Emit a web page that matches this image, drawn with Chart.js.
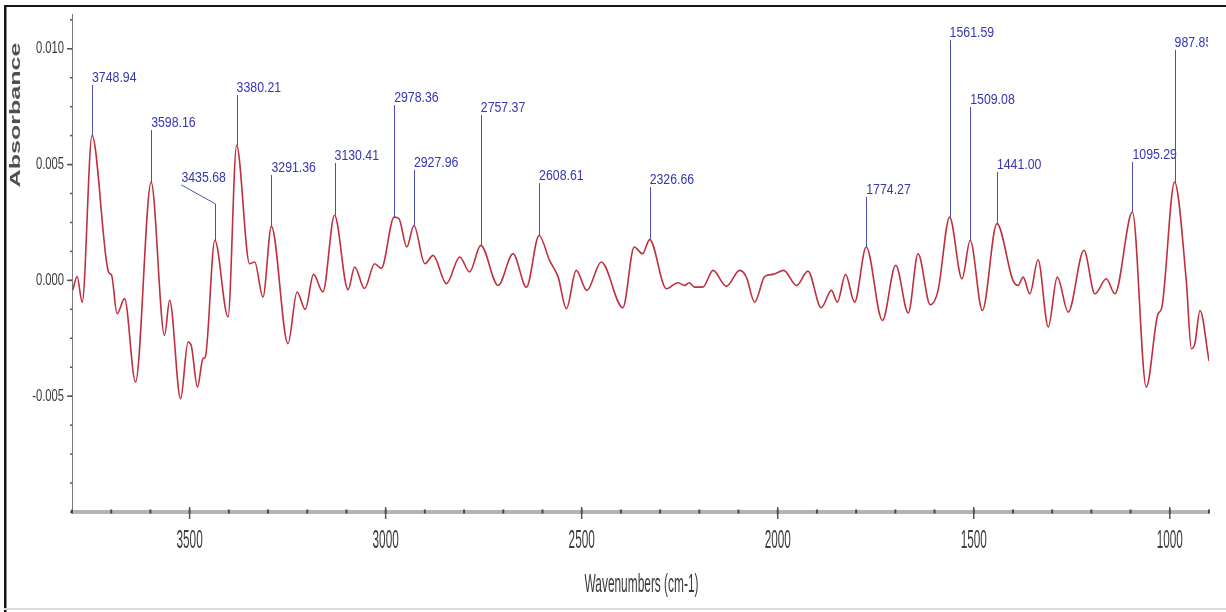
<!DOCTYPE html>
<html>
<head>
<meta charset="utf-8">
<title>FTIR spectrum</title>
<script src="https://cdn.jsdelivr.net/npm/chart.js@4.4.1/dist/chart.umd.min.js"></script>
<style>
  html, body { margin: 0; padding: 0; background: #ffffff; }
  #wrap { width: 1226px; height: 612px; position: relative; }
</style>
</head>
<body>
<div id="wrap"><canvas id="spectrum" width="1226" height="612"></canvas></div>
<script>
// Spectrum: wavenumber (cm-1) and absorbance
const wavenumbers = [
  3798, 3787, 3774, 3748.94, 3707, 3699, 3685, 3666, 3638, 3598.16,
  3564, 3551, 3523, 3504, 3496, 3480, 3466, 3460, 3435.68, 3402,
  3380.21, 3347, 3334, 3313, 3291.36, 3249, 3226, 3205, 3184, 3160,
  3130.41, 3096, 3079, 3054, 3028, 3011, 2978.36, 2966, 2946, 2927.96,
  2900, 2879, 2845, 2811, 2786, 2757.37, 2713, 2675, 2641, 2608.61,
  2582, 2560, 2539, 2514, 2487, 2450, 2395, 2366, 2345, 2326.66,
  2284, 2254, 2237, 2226, 2212, 2191, 2165, 2131, 2097, 2080,
  2059, 2033, 2012, 1985, 1952, 1923, 1889, 1863, 1848, 1827,
  1804, 1774.27, 1733, 1699, 1667, 1642, 1611, 1591, 1561.59, 1530,
  1509.08, 1478, 1441.00, 1400, 1387, 1374, 1357, 1336, 1310, 1287,
  1259, 1219, 1191, 1162, 1140, 1095.29, 1060, 1030, 1021, 987.85,
  958, 945, 936, 923, 900
];
const absorbance = [
  -0.00042, 0.00017, -0.00094, 0.00626, 0.00037, 0.00022, -0.00144, -0.00079, -0.00439, 0.00424,
  -0.00237, -0.00086, -0.00511, -0.00266, -0.00280, -0.00461, -0.00338, -0.00331, 0.00173, -0.00158,
  0.00583, 0.00072, 0.00079, -0.00072, 0.00233, -0.00273, -0.00050, -0.00125, 0.00026, -0.00050,
  0.00281, -0.00040, 0.00058, -0.00035, 0.00072, 0.00052, 0.00273, 0.00266, 0.00144, 0.00237,
  0.00072, 0.00108, -0.00014, 0.00101, 0.00036, 0.00151, -0.00022, 0.00115, -0.00029, 0.00194,
  0.00086, 0.00014, -0.00122, 0.00043, -0.00043, 0.00079, -0.00118, 0.00144, 0.00115, 0.00176,
  -0.00036, -0.00010, -0.00022, -0.00010, -0.00029, -0.00029, 0.00043, -0.00025, 0.00043, 0.00014,
  -0.00094, 0.00017, 0.00026, 0.00043, -0.00022, 0.00040, -0.00118, -0.00043, -0.00094, 0.00026,
  -0.00094, 0.00144, -0.00173, 0.00065, -0.00141, 0.00115, -0.00105, -0.00043, 0.00273, 0.00007,
  0.00173, -0.00130, 0.00245, 0.00000, -0.00022, 0.00014, -0.00058, 0.00089, -0.00201, 0.00014,
  -0.00137, 0.00130, -0.00058, 0.00007, -0.00058, 0.00295, -0.00461, -0.00144, -0.00122, 0.00424,
  0.00000, -0.00295, -0.00273, -0.00130, -0.00348
];

// Picked peaks and the absorbance level where each label sits
const peakWavenumbers = [3748.94, 3598.16, 3435.68, 3380.21, 3291.36, 3130.41, 2978.36, 2927.96,
  2757.37, 2608.61, 2326.66, 1774.27, 1561.59, 1509.08, 1441.00, 1095.29, 987.85];
const peakLabelLevels = [0.00844, 0.00649, 0.00412, 0.00800, 0.00455, 0.00507, 0.00757, 0.00477,
  0.00714, 0.00420, 0.00403, 0.00360, 0.01038, 0.00749, 0.00468, 0.00511, 0.00995];
// wavenumber at the label's left edge (differs from the peak when the leader bends)
const peakLabelAt = [3748.94, 3598.16, 3521, 3380.21, 3291.36, 3130.41, 2978.36, 2927.96,
  2757.37, 2608.61, 2326.66, 1774.27, 1561.59, 1509.08, 1441.00, 1095.29, 987.85];
// absorbance where a bent leader turns toward its label (null = straight)
const peakLeaderElbow = [null, null, 0.0033, null, null, null, null, null,
  null, null, null, null, null, null, null, null, null];

// Axis ticks
const xTickLabels = [3500, 3000, 2500, 2000, 1500, 1000];
const yTickLabels = [0.010, 0.005, 0.000, -0.005];
const xMinorStep = 100;
const yMinorStep = 0.00125;

const FONT = '"Liberation Sans", Arial, sans-serif';

function drawText(ctx, str, x, y, o) {
  ctx.save();
  ctx.translate(x, y);
  if (o.rotate) ctx.rotate(o.rotate);
  ctx.scale(o.sx || 1, o.sy || 1);
  ctx.font = (o.weight || 'normal') + ' ' + o.size + 'px ' + FONT;
  ctx.fillStyle = o.color;
  ctx.textAlign = o.align || 'left';
  ctx.textBaseline = o.baseline || 'alphabetic';
  ctx.fillText(str, 0, 0);
  ctx.restore();
}

// Frame, axes, ticks and titles in the style of the spectrometer software
const axesPlugin = {
  id: 'spectrumAxes',
  beforeDatasetsDraw(chart) {
    const ctx = chart.ctx;
    const xs = chart.scales.x, ys = chart.scales.y;
    const area = chart.chartArea;
    ctx.save();

    // outer frame
    ctx.fillStyle = '#151515';
    ctx.fillRect(4, 5, 1222, 2);
    ctx.fillRect(4, 5, 2.5, 607);
    ctx.fillStyle = '#dcdcdc';
    ctx.fillRect(4, 608, 1222, 2);

    // y axis line
    ctx.fillStyle = '#7a7a7a';
    ctx.fillRect(area.left, area.top, 1, area.bottom - area.top);

    // y minor ticks
    ctx.fillStyle = '#555';
    for (let v = ys.min; v <= ys.max + 1e-9; v += yMinorStep) {
      const y = ys.getPixelForValue(v);
      ctx.fillRect(area.left - 2, y - 0.75, 2, 1.5);
    }
    // y major ticks and labels
    yTickLabels.forEach(v => {
      const y = ys.getPixelForValue(v);
      ctx.fillStyle = '#555';
      ctx.fillRect(area.left - 5, y - 0.75, 5, 1.5);
      drawText(ctx, v.toFixed(3), area.left - 8, y, {
        size: 14, sx: 0.8, sy: 1.2, align: 'right', baseline: 'middle', color: '#3a3a3a'
      });
    });

    // x axis band
    ctx.fillStyle = '#b4b4b4';
    ctx.fillRect(area.left, area.bottom - 2, area.right - area.left, 4);

    // x minor ticks
    ctx.fillStyle = '#4a4a4a';
    for (let w = xs.min; w <= xs.max + 1e-9; w += xMinorStep) {
      const x = xs.getPixelForValue(w);
      ctx.fillRect(x - 1, area.bottom - 2.5, 2, 4);
    }
    // x major ticks and labels
    xTickLabels.forEach(w => {
      const x = xs.getPixelForValue(w);
      ctx.fillStyle = '#555';
      ctx.fillRect(x - 0.75, area.bottom - 5, 1.5, 12);
      drawText(ctx, String(w), x, area.bottom + 29, {
        size: 14, sx: 0.84, sy: 1.8, align: 'center', baseline: 'middle', color: '#3a3a3a'
      });
    });

    // axis titles
    drawText(ctx, 'Wavenumbers (cm-1)', (area.left + area.right) / 2 + 1, area.bottom + 73, {
      size: 14, sx: 0.85, sy: 1.8, align: 'center', baseline: 'middle', color: '#3a3a3a'
    });
    drawText(ctx, 'Absorbance', 16, 115, {
      size: 15, sx: 1.67, sy: 1, rotate: -Math.PI / 2, weight: 'bold',
      align: 'center', baseline: 'middle', color: '#505050'
    });

    ctx.restore();
  }
};

// Peak markers: leader lines from each peak top and the wavenumber label
const peakPlugin = {
  id: 'peakLabels',
  afterDatasetsDraw(chart) {
    const ctx = chart.ctx;
    const xs = chart.scales.x, ys = chart.scales.y;
    const area = chart.chartArea;
    ctx.save();
    ctx.beginPath();
    ctx.rect(0, 0, area.right - 1, chart.height);
    ctx.clip();
    peakWavenumbers.forEach((w, i) => {
      const idx = wavenumbers.indexOf(w);
      const px = xs.getPixelForValue(w);
      const py = ys.getPixelForValue(absorbance[idx]);
      const ly = ys.getPixelForValue(peakLabelLevels[i]);
      const lx = xs.getPixelForValue(peakLabelAt[i]);
      ctx.strokeStyle = 'rgba(70,70,175,0.95)';
      ctx.lineWidth = 1;
      ctx.beginPath();
      ctx.moveTo(Math.round(px) + 0.5, py);
      if (peakLeaderElbow[i] !== null) {
        const ey = ys.getPixelForValue(peakLeaderElbow[i]);
        ctx.lineTo(Math.round(px) + 0.5, ey);
        ctx.lineTo(lx, ly);
      } else {
        ctx.lineTo(Math.round(px) + 0.5, ly);
      }
      ctx.stroke();
      drawText(ctx, w.toFixed(2), lx, ly - 3, {
        size: 14, sx: 0.88, sy: 1, align: 'left', baseline: 'alphabetic', color: '#3535b5'
      });
    });
    ctx.restore();
  }
};

new Chart(document.getElementById('spectrum'), {
  type: 'scatter',
  data: {
    datasets: [{
      label: 'Absorbance',
      data: wavenumbers.map((w, i) => ({ x: w, y: absorbance[i] })),
      showLine: true,
      borderColor: '#bf2f3d',
      borderWidth: 1.6,
      pointRadius: 0,
      tension: 0.4,
      cubicInterpolationMode: 'monotone',
      fill: false
    }]
  },
  options: {
    responsive: false,
    animation: false,
    devicePixelRatio: 1,
    layout: { padding: { top: 14, right: 17, left: 0, bottom: 0 } },
    plugins: { legend: { display: false }, tooltip: { enabled: false } },
    scales: {
      x: {
        type: 'linear', reverse: true, min: 900, max: 3800,
        grid: { display: false }, border: { display: false },
        ticks: { display: false },
        afterFit(s) { s.height = 100; }
      },
      y: {
        type: 'linear', min: -0.010, max: 0.0115,
        grid: { display: false }, border: { display: false },
        ticks: { display: false },
        afterFit(s) { s.width = 72; }
      }
    }
  },
  plugins: [axesPlugin, peakPlugin]
});
</script>
</body>
</html>
